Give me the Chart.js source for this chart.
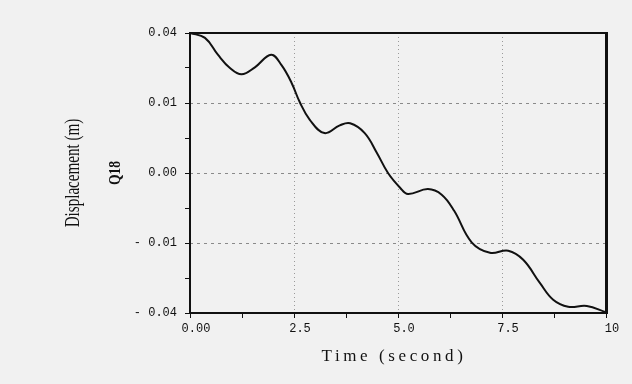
<!DOCTYPE html>
<html lang="en">
<head>
    <meta charset="UTF-8">
    <title>Q18 Displacement</title>
    <style>
        html, body { margin: 0; padding: 0; background: #f1f1f1; }
        #wrap { width: 632px; height: 384px; }
    </style>
</head>
<body>
    <div id="wrap"><canvas id="dispChart" width="632" height="384"></canvas></div>
    <script src="https://cdn.jsdelivr.net/npm/chart.js"></script>
    <script>
        // time (s) and displacement
        const timeValues = [0, 0.36, 0.67, 0.96, 1.24, 1.56, 1.95, 2.2, 2.44, 2.64, 2.88, 3.23, 3.6, 3.85, 4.2, 4.49, 4.76, 5.05, 5.24, 5.72, 6.05, 6.35, 6.77, 7.21, 7.65, 8.01, 8.41, 8.73, 9.09, 9.54, 10];
        const dispValues = [0.0200, 0.0193, 0.0169, 0.0150, 0.0141, 0.0151, 0.0169, 0.0154, 0.0129, 0.0101, 0.0076, 0.0057, 0.0068, 0.0071, 0.0057, 0.0029, 0.0000, -0.0021, -0.0030, -0.0023, -0.0031, -0.0054, -0.0099, -0.0114, -0.0111, -0.0124, -0.0157, -0.0181, -0.0191, -0.0190, -0.0199];

        // tick labels as printed on the figure
        const xTickLabels = ['0.00', '2.5', '5.0', '7.5', '10'];
        const yTickLabels = ['- 0.04', '- 0.01', '0.00', '0.01', '0.04']; // bottom to top

        const xTitle = 'Time (second)';
        const yTitle = 'Displacement (m)';
        const seriesName = 'Q18';

        const monoFont = { family: "'Liberation Mono', 'DejaVu Sans Mono', monospace", size: 12 };

        // frame and axis titles
        const framePlugin = {
            id: 'frame',
            afterDraw(chart) {
                const { ctx, chartArea: a } = chart;
                ctx.save();
                ctx.strokeStyle = '#111';
                ctx.lineWidth = 2;
                ctx.beginPath();
                ctx.moveTo(a.right, a.top);
                ctx.lineTo(a.left, a.top);
                ctx.lineTo(a.left, a.bottom);
                ctx.lineTo(a.right, a.bottom);
                ctx.stroke();
                ctx.lineWidth = 3;
                ctx.beginPath();
                ctx.moveTo(a.right + 0.5, a.top - 1);
                ctx.lineTo(a.right + 0.5, a.bottom + 1);
                ctx.stroke();

                ctx.fillStyle = '#111';
                ctx.textAlign = 'center';
                ctx.textBaseline = 'middle';

                // x title
                ctx.font = "17px 'Liberation Serif', serif";
                ctx.letterSpacing = '3.6px';
                ctx.fillText(xTitle, (a.left + a.right) / 2 - 4, 357);
                ctx.letterSpacing = '0px';

                const midY = (a.top + a.bottom) / 2;
                // y title, tall and narrow
                ctx.save();
                ctx.translate(73, midY);
                ctx.rotate(-Math.PI / 2);
                ctx.scale(0.72, 1);
                ctx.font = "21px 'Liberation Serif', serif";
                ctx.fillText(yTitle, 0, 0);
                ctx.restore();

                // series name
                ctx.save();
                ctx.translate(116, midY);
                ctx.rotate(-Math.PI / 2);
                ctx.scale(0.8, 1);
                ctx.font = "bold 17px 'Liberation Serif', serif";
                ctx.fillText(seriesName, 0, 0);
                ctx.restore();
                ctx.restore();
            }
        };

        const isMajor = (v, step) => Math.abs(v / step - Math.round(v / step)) < 1e-6;

        const ctx = document.getElementById('dispChart').getContext('2d');
        new Chart(ctx, {
            type: 'line',
            data: {
                datasets: [{
                    label: seriesName,
                    data: timeValues.map((t, i) => ({ x: t, y: dispValues[i] })),
                    borderColor: '#111',
                    borderWidth: 2,
                    pointRadius: 0,
                    tension: 0.4,
                    fill: false
                }]
            },
            options: {
                responsive: false,
                animation: false,
                layout: { padding: { left: 0, right: 26, top: 33, bottom: 0 } },
                plugins: { legend: { display: false }, tooltip: { enabled: false } },
                scales: {
                    x: {
                        type: 'linear',
                        min: 0,
                        max: 10,
                        afterFit: s => { s.height = 71; },
                        afterBuildTicks: s => {
                            s.ticks = [];
                            for (let i = 0; i <= 8; i++) s.ticks.push({ value: i * 1.25 });
                        },
                        ticks: {
                            autoSkip: false,
                            maxRotation: 0,
                            color: '#111',
                            font: monoFont,
                            padding: 4,
                            labelOffset: 6,
                            callback: v => isMajor(v, 2.5) ? xTickLabels[Math.round(v / 2.5)] : ''
                        },
                        grid: {
                            color: c => (isMajor(c.tick.value, 2.5) && c.tick.value > 0 && c.tick.value < 10) ? '#9a9a9a' : 'rgba(0,0,0,0)',
                            tickColor: '#111',
                            tickLength: 5,
                            lineWidth: 1
                        },
                        border: { display: false, dash: [1, 3] }
                    },
                    y: {
                        type: 'linear',
                        min: -0.02,
                        max: 0.02,
                        afterFit: s => { s.width = 190; },
                        afterBuildTicks: s => {
                            s.ticks = [];
                            for (let i = 0; i <= 8; i++) s.ticks.push({ value: -0.02 + i * 0.005 });
                        },
                        ticks: {
                            autoSkip: false,
                            color: '#111',
                            font: monoFont,
                            padding: 8,
                            callback: v => isMajor(v + 0.02, 0.01) ? yTickLabels[Math.round((v + 0.02) / 0.01)] : ''
                        },
                        grid: {
                            color: c => {
                                const k = Math.round((c.tick.value + 0.02) / 0.005);
                                return (k % 2 === 0 && k > 0 && k < 8) ? '#8a8a8a' : 'rgba(0,0,0,0)';
                            },
                            tickColor: '#111',
                            tickLength: 5,
                            lineWidth: 1
                        },
                        border: { display: false, dash: [3, 4] }
                    }
                }
            },
            plugins: [framePlugin]
        });
    </script>
</body>
</html>
